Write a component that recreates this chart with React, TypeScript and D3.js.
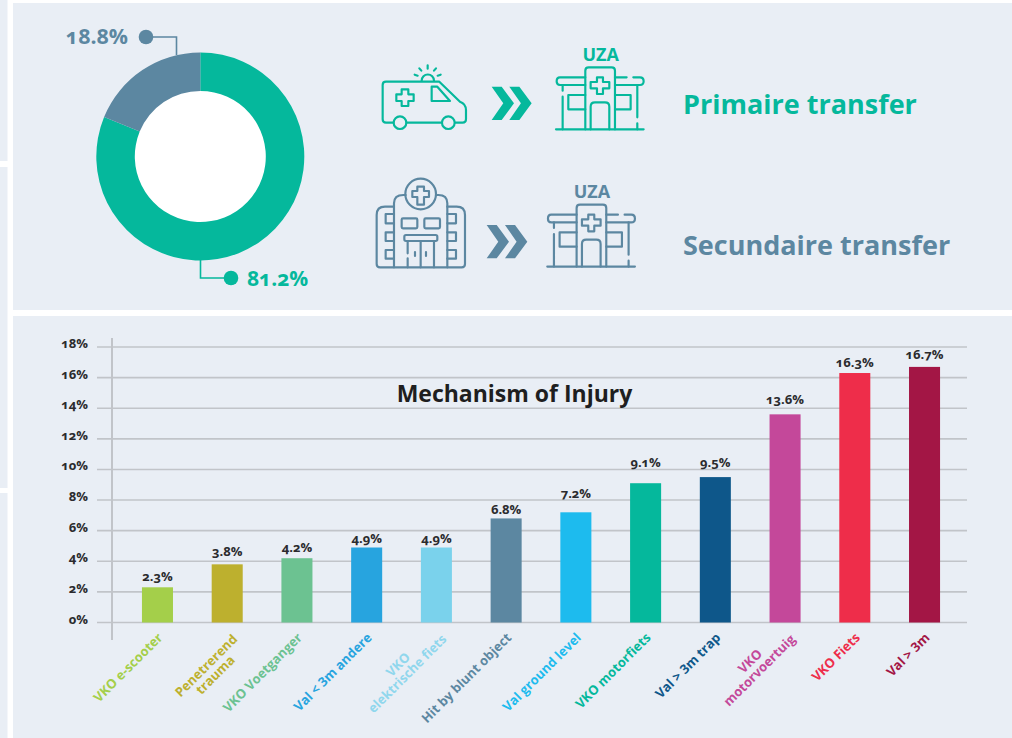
import React from "react";
import * as d3 from "d3";

const categories: string[][] = [
  ["VKO e-scooter"], ["Penetrerend", "trauma"], ["VKO Voetganger"], ["Val < 3m andere"],
  ["VKO", "elektrische fiets"], ["Hit by blunt object"], ["Val ground level"], ["VKO motorfiets"],
  ["Val > 3m trap"], ["VKO", "motorvoertuig"], ["VKO Fiets"], ["Val > 3m"],
];
const values = [2.3, 3.8, 4.2, 4.9, 4.9, 6.8, 7.2, 9.1, 9.5, 13.6, 16.3, 16.7];
const barColors = ["#A4CF4A", "#BDB02E", "#6CC291", "#27A4DF", "#7AD2EC", "#5C87A1", "#1DBBEE", "#05B89C", "#0E578A", "#C4489A", "#EE2D4A", "#A31645"];
const yTicks = [0, 2, 4, 6, 8, 10, 12, 14, 16, 18];
const donutValues = [81.2, 18.8];
const donutColors = ["#05B89C", "#5C87A1"];

const TEAL = donutColors[0];
const SLATE = donutColors[1];
const BG = "#E9EEF5";
const GRID = "#C1C4C9";
const DARK = "#2B2B2E";
const FONT = "'Open Sans', sans-serif";

// the value labels sit at uneven heights above the bars in the reference
const labelLift = [6, 8, 6, 4.5, 4.5, 4, 14, 16.5, 10, 10, 6, 8];

const y = d3.scaleLinear().domain([0, 18]).range([622.5, 347]);
const x = d3.scaleBand<number>().domain(d3.range(values.length)).range([122.6, 959.4]).paddingInner(0.555).paddingOuter(0.2775);

const pieGen = d3.pie<number>().sort(null).startAngle(0).endAngle(2 * Math.PI);
const arcGen = d3.arc<d3.PieArcDatum<number>>().innerRadius(65.5).outerRadius(104);

function measure(s: string) {
  const c = document.createElement("canvas").getContext("2d")!;
  c.font = `700 13px 'Open Sans'`;
  return c.measureText(s).width;
}

function Chevrons({ x0, y0, color, h = 100, w = 67, gap = 53 }: any) {
  const one = (o: number) => `M${x0 + o},${y0} h${w * 0.45} l${w * 0.55},${h / 2} l${-w * 0.55},${h / 2} h${-w * 0.45} l${w * 0.52},${-h / 2} Z`;
  return <g fill={color}><path d={one(0)} /><path d={one(gap)} /></g>;
}

function Uza({ color }: { color: string }) {
  return (
    <g fill="none" stroke={color} strokeWidth={6.5} strokeLinecap="round" strokeLinejoin="round">
      <path d="M588,268 H851" />
      <path d="M676,268 V92 Q676,82 686,82 H755 Q765,82 765,92 V268" />
      <path d="M676,112 H600 Q590,112 590,124 Q590,135 600,135 H676" />
      <path d="M765,112 H800 M820,112 H840 Q851,112 851,124 Q851,135 840,135 H765" />
      <path d="M711,112 H729 V126 H748 V145 H729 V162 H711 V145 H692 V126 H711 Z" />
      <path d="M692,268 V200 Q692,187 705,187 H735 Q748,187 748,200 V268" />
      <path d="M676,165 H625 V208 H676 M765,165 H812 V208 H765" />
      <path d="M608,135 V152 M608,170 V268 M832,135 V232 M832,250 V268" />
      <text x={722} y={62} textAnchor="middle" stroke="none" fill={color} fontFamily={FONT} fontWeight={700} fontSize={54}>UZA</text>
    </g>
  );
}

function Ambulance() {
  return (
    <g fill="none" stroke={TEAL} strokeWidth={6.5} strokeLinecap="round" strokeLinejoin="round">
      <path d="M100,248 H78 Q68,248 68,238 V135 Q68,125 78,125 H238 L300,185 Q318,192 318,210 V238 Q318,248 308,248 H285 M245,248 H140" />
      <circle cx={120} cy={248} r={19} />
      <circle cx={265} cy={248} r={19} />
      <path d="M215,140 H232 L270,183 H215 Z" />
      <path d="M125,148 H145 V163 H161 V183 H145 V198 H125 V183 H109 V163 H125 Z" />
      <path d="M185,122 A18,18 0 0 1 222,122" />
      <path d="M203,76 V86 M178,85 L184,92 M228,85 L222,92 M164,104 L173,107 M242,104 L233,107" />
    </g>
  );
}

function BigHospital() {
  return (
    <g fill="none" stroke={SLATE} strokeWidth={6.5} strokeLinecap="round" strokeLinejoin="round">
      <path d="M102,110 H75 Q50,110 50,135 V282 Q50,292 60,292 H305 Q315,292 315,282 V135 Q315,110 290,110 H262" />
      <path d="M102,292 V100 Q102,75 130,75 H137 M228,75 H235 Q262,75 262,100 V292" />
      <circle cx={182} cy={72} r={46} />
      <path d="M172,50 H192 V63 H207 V81 H192 V104 H172 V81 H157 V63 H172 Z" />
      <path d="M102,132 H77 V160 H102 M102,187 H77 V213 H102 M102,240 H77 V266 H102" />
      <path d="M262,132 H288 V160 H262 M262,187 H288 V213 H262 M262,240 H288 V266 H262" />
      <rect x={125} y={145} width={47} height={30} rx={4} />
      <rect x={193} y={145} width={47} height={30} rx={4} />
      <rect x={133} y={195} width={99} height={18} rx={5} />
      <path d="M143,213 V250 M143,265 V292 M222,213 V292 M182,213 V292 M165,246 V258 M198,246 V258" />
    </g>
  );
}

export default function App() {
  const arcs = pieGen(donutValues);
  return (
    <svg width={1012} height={738} viewBox="0 0 1012 738" style={{ position: "fixed", left: 0, top: 0, background: "#fff", fontFamily: FONT }}>
      <rect x={0} y={0} width={7.5} height={161} fill={BG} />
      <rect x={0} y={167} width={7.5} height={321} fill={BG} />
      <rect x={0} y={493} width={7.5} height={245} fill={BG} />
      <rect x={13} y={3} width={999} height={307} fill={BG} />
      <rect x={13} y={316} width={999} height={422} fill={BG} />

      {/* donut */}
      <g transform="translate(200.3,156.5)">
        <circle r={66} fill="#fff" />
        {arcs.map((a, i) => <path key={i} d={arcGen(a)!} fill={donutColors[i]} />)}
      </g>
      <path d="M146,37 H176.5 V55" fill="none" stroke={SLATE} strokeWidth={1.6} />
      <circle cx={146} cy={37} r={7.3} fill={SLATE} />
      <text x={128} y={44} textAnchor="end" fill={SLATE} fontWeight={700} fontSize={21.3} style={{ fontVariantNumeric: "oldstyle-nums" }}>{`${donutValues[1]}%`}</text>
      <path d="M200.5,259 V278 H231" fill="none" stroke={TEAL} strokeWidth={1.6} />
      <circle cx={231} cy={278} r={7.3} fill={TEAL} />
      <text x={247} y={286} fill={TEAL} fontWeight={700} fontSize={21} style={{ fontVariantNumeric: "oldstyle-nums" }}>{`${donutValues[0]}%`}</text>

      {/* transfer icons */}
      <g transform="translate(360,40) scale(0.3333)">
        <Ambulance />
        <Chevrons x0={395} y0={140} color={TEAL} />
        <Uza color={TEAL} />
      </g>
      <g transform="translate(360,170) scale(0.3333)">
        <BigHospital />
        <Chevrons x0={380} y0={165} color={SLATE} gap={55} />
      </g>
      <g transform="translate(351.3,177.3) scale(0.3333)">
        <Uza color={SLATE} />
      </g>
      <text x={683} y={114} fill={TEAL} fontWeight={700} fontSize={27}>Primaire transfer</text>
      <text x={683} y={255} fill={SLATE} fontWeight={700} fontSize={27}>Secundaire transfer</text>

      {/* bar chart */}
      {yTicks.map((t) => (
        <g key={t}>
          <line x1={97} x2={967} y1={y(t)} y2={y(t)} stroke={GRID} strokeWidth={1.6} />
          <text x={88} y={y(t) + 1} textAnchor="end" fill={DARK} fontWeight={700} fontSize={13} style={{ fontVariantNumeric: "oldstyle-nums" }}>{`${t}%`}</text>
        </g>
      ))}
      <line x1={112} x2={112} y1={338} y2={640} stroke={GRID} strokeWidth={2} />
      <text x={514.5} y={402} textAnchor="middle" fill="#1E1E20" fontWeight={700} fontSize={23}>Mechanism of Injury</text>
      {values.map((v, i) => (
        <g key={i}>
          <rect x={x(i)!} y={y(v)} width={x.bandwidth()} height={y(0) - y(v)} fill={barColors[i]} />
          <text x={x(i)! + x.bandwidth() / 2} y={y(v) - labelLift[i]} textAnchor="middle" fill={DARK} fontWeight={700} fontSize={13} style={{ fontVariantNumeric: "oldstyle-nums" }}>{`${v}%`}</text>
        </g>
      ))}
      {categories.map((lines, i) => {
        const cx = x(i)! + x.bandwidth() / 2;
        const widths = lines.map(measure);
        const maxW = Math.max(...widths);
        const wide = widths.indexOf(maxW);
        const two = lines.length > 1;
        return (
          <g key={i} transform={`translate(${cx + (two ? 11 : 6)},${two ? 640 : 638.5}) rotate(-45)`}>
            {lines.map((s, j) => (
              <text key={j} x={-maxW / 2} y={(j - wide) * 13} textAnchor="middle" fill={barColors[i]} fontWeight={700} fontSize={13} opacity={i === 4 ? 0.8 : 1}>{s}</text>
            ))}
          </g>
        );
      })}
    </svg>
  );
}
